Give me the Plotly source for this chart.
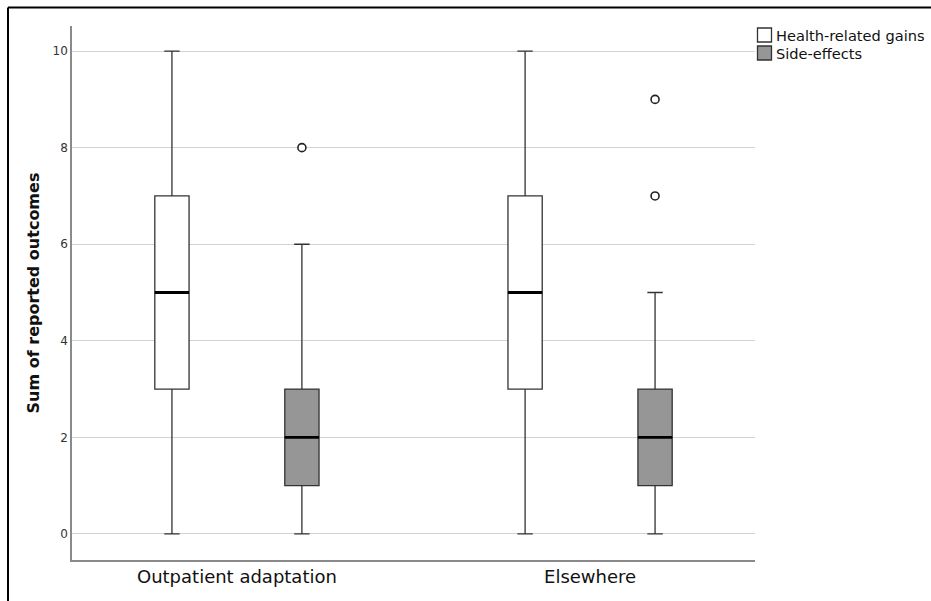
import plotly.graph_objects as go

# ---- data ----
categories = ["Outpatient adaptation", "Elsewhere"]
series_names = ["Health-related gains", "Side-effects"]
q1_vals = {"Health-related gains": [3, 3], "Side-effects": [1, 1]}
median_vals = {"Health-related gains": [5, 5], "Side-effects": [2, 2]}
q3_vals = {"Health-related gains": [7, 7], "Side-effects": [3, 3]}
low_vals = {"Health-related gains": [0, 0], "Side-effects": [0, 0]}
high_vals = {"Health-related gains": [10, 10], "Side-effects": [6, 5]}
outliers = {"Health-related gains": [[], []], "Side-effects": [[8], [7, 9]]}
y_ticks = [0, 2, 4, 6, 8, 10]

fills = {"Health-related gains": "#ffffff", "Side-effects": "#969696"}
offsets = {"Health-related gains": -0.184, "Side-effects": 0.184}
box_w = 0.097

fig = go.Figure()
for s in series_names:
    xs = [i + offsets[s] for i in range(len(categories))]
    fig.add_trace(go.Box(
        name=s, x=xs, q1=q1_vals[s], median=median_vals[s], q3=q3_vals[s],
        lowerfence=low_vals[s], upperfence=high_vals[s],
        width=box_w, whiskerwidth=0.45,
        fillcolor=fills[s], line=dict(color="#333333", width=1.3),
        boxpoints=False, showlegend=False, hoverinfo="skip",
    ))
for s in series_names:
    for i in range(len(categories)):
        xc = i + offsets[s]
        fig.add_trace(go.Scatter(
            x=[xc - box_w / 2, xc + box_w / 2],
            y=[median_vals[s][i]] * 2, mode="lines",
            line=dict(color="#000000", width=2.8), showlegend=False, hoverinfo="skip"))
        if outliers[s][i]:
            fig.add_trace(go.Scatter(
                x=[xc] * len(outliers[s][i]), y=outliers[s][i], mode="markers",
                marker=dict(symbol="circle", size=8, color="#ffffff",
                            line=dict(color="#222222", width=1.6)),
                showlegend=False, hoverinfo="skip"))

L, R, T, B = 72, 176, 26, 41
W, H = 931, 601
pw, ph = W - L - R, H - T - B


def px_x(px):
    return (px - L) / pw


def px_y(py):
    return (H - B - py) / ph


fig.update_layout(
    width=W, height=H,
    margin=dict(l=L, r=R, t=T, b=B, pad=0, autoexpand=False),
    paper_bgcolor="#ffffff", plot_bgcolor="#ffffff",
    font=dict(family="DejaVu Sans", color="#222222"),
    showlegend=False,
    xaxis=dict(range=[-0.467, 1.467], tickmode="array", tickvals=list(range(len(categories))),
               ticktext=categories, showgrid=False, zeroline=False,
               showline=True, linecolor="#8a8a8a", linewidth=1.5,
               tickfont=dict(size=18, color="#111111"), ticks="", ticklen=0),
    yaxis=dict(range=[-0.54, 10.52], tickmode="array", tickvals=y_ticks,
               showgrid=True, gridcolor="#d2d2d2", gridwidth=1.2, zeroline=False,
               showline=True, linecolor="#8a8a8a", linewidth=1.5,
               tickfont=dict(size=12, color="#333333"), ticks="",
               title=dict(text="<b>Sum of reported outcomes</b>", font=dict(size=16, color="#111111"),
                          standoff=9)),
)

# manual legend
for k, s in enumerate(series_names):
    top = 28 + 18 * k
    fig.add_shape(type="rect", xref="paper", yref="paper",
                  x0=px_x(757.5), x1=px_x(771.5), y0=px_y(top), y1=px_y(top + 14),
                  fillcolor=fills[s], line=dict(color="#333333", width=1.3))
    fig.add_annotation(xref="paper", yref="paper", x=px_x(774), y=px_y(top + 7),
                       text=s, showarrow=False, xanchor="left", yanchor="middle",
                       font=dict(size=14.6, color="#111111", family="DejaVu Sans"))

# outer frame (left and top edges visible)
fx0 = px_x(8)
fy0 = px_y(7.5)
fig.add_shape(type="line", xref="paper", yref="paper", x0=fx0, x1=2.0, y0=fy0, y1=fy0,
              line=dict(color="#000000", width=2))
fig.add_shape(type="line", xref="paper", yref="paper", x0=fx0, x1=fx0, y0=fy0, y1=-1.0,
              line=dict(color="#000000", width=2))

fig.write_html("out.html", config={"displayModeBar": False},
               post_script="document.body.style.margin='0';")
